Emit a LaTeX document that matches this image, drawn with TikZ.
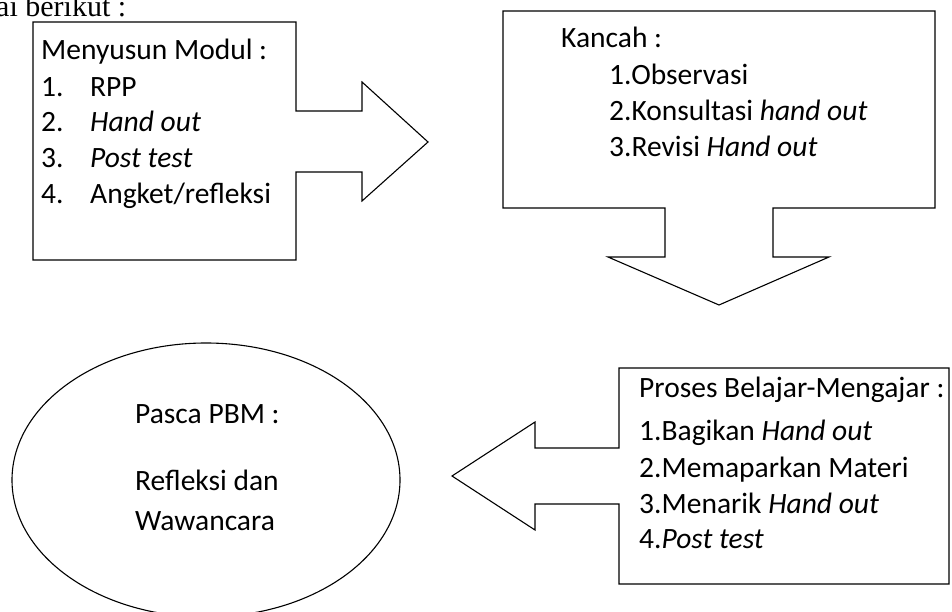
\documentclass[tikz,border=0pt]{standalone}
\usepackage{fontspec}
\setmainfont{Carlito}
\newfontfamily\serifft{Liberation Serif}
\begin{document}
\begin{tikzpicture}[x=1pt,y=-1pt,
  txt/.style={anchor=base west,inner sep=0pt,font=\fontsize{29.5}{29.5}\selectfont},
  shp/.style={draw=black,line width=1.1pt,line join=miter}]
\useasboundingbox (0,0) rectangle (952,612);
\clip (0,0) rectangle (952,612);
% top text
\node[anchor=base west,inner sep=0pt,font=\serifft\fontsize{30}{30}\selectfont] (intro) at (-4,17) {ai berikut :};
% box 1 with right arrow
\draw[shp] (33,22) -- (296,22) -- (296,111) -- (362,111) -- (362,82) -- (428,142) -- (362,201) -- (362,172) -- (296,172) -- (296,260) -- (33,260) -- cycle;
\node[txt] (m0) at (41,60) {Menyusun Modul :};
\node[txt] (m1n) at (41,97) {1.};
\node[txt] (m1) at (90,97) {RPP};
\node[txt] (m2n) at (41,132) {2.};
\node[txt] (m2) at (90,132) {\itshape Hand out};
\node[txt] (m3n) at (41,168) {3.};
\node[txt] (m3) at (90,168) {\itshape Post test};
\node[txt] (m4n) at (41,204) {4.};
\node[txt] (m4) at (90,204) {Angket/refleksi};
% box 2 with down arrow
\draw[shp] (503,11) -- (935,11) -- (935,208) -- (773,208) -- (773,257) -- (829,257) -- (719,305) -- (608,257) -- (665,257) -- (665,208) -- (503,208) -- cycle;
\node[txt] (k0) at (561,48) {Kancah :};
\node[txt] (k1) at (609,85) {1.Observasi};
\node[txt] (k2) at (609,121) {2.Konsultasi \textit{hand out}};
\node[txt] (k3) at (609,157) {3.Revisi \textit{Hand out}};
% box 3 with left arrow
\draw[shp] (619,368) -- (949,368) -- (949,584) -- (619,584) -- (619,504) -- (535,504) -- (535,530) -- (452,476) -- (535,422) -- (535,448) -- (619,448) -- cycle;
\node[txt] (p0) at (639,397) {Proses Belajar-Mengajar :};
\node[txt] (p1) at (639,440) {1.Bagikan \textit{Hand out}};
\node[txt] (p2) at (639,477) {2.Memaparkan Materi};
\node[txt] (p3) at (639,513) {3.Menarik \textit{Hand out}};
\node[txt] (p4) at (639,548) {4.\textit{Post test}};
% ellipse
\draw[shp] (206,480) ellipse [x radius=194, y radius=137];
\node[txt] (e1) at (135,423) {Pasca PBM :};
\node[txt] (e2) at (135,490) {Refleksi dan};
\node[txt] (e3) at (135,530) {Wawancara};
\end{tikzpicture}
\end{document}
